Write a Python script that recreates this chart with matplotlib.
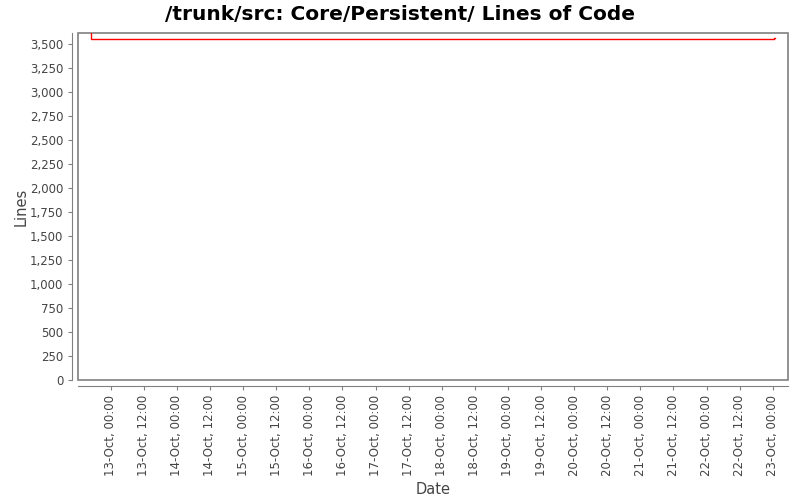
import matplotlib
matplotlib.use("Agg")
import matplotlib.pyplot as plt
import matplotlib.dates as mdates
from matplotlib.patches import Rectangle
from matplotlib.ticker import FuncFormatter, MultipleLocator
from datetime import datetime

# step series: lines of code over time
dates = [datetime(2009, 10, 12, 16, 0), datetime(2009, 10, 12, 16, 45),
         datetime(2009, 10, 23, 0, 35), datetime(2009, 10, 23, 0, 40)]
lines = [3800, 3552, 3567, 3567]

x_start = datetime(2009, 10, 12, 12, 10)
x_end = datetime(2009, 10, 23, 5, 30)

plt.rcParams['font.family'] = ['DejaVu Sans']
fig = plt.figure(figsize=(8, 5), dpi=100)
ax = fig.add_axes([0.0975, 0.24, 0.8875, 0.694])

ax.step(dates, lines, where='post', color='#ff0000', linewidth=1.0)

ax.set_xlim(x_start, x_end)
ax.set_ylim(0, 3615)

ax.yaxis.set_major_locator(MultipleLocator(250))
ax.yaxis.set_major_formatter(FuncFormatter(lambda v, p: f"{int(v):,}"))
ax.xaxis.set_major_locator(mdates.HourLocator(byhour=[0, 12]))
ax.xaxis.set_major_formatter(mdates.DateFormatter('%d-%b, %H:%M'))

for side in ['top', 'right']:
    ax.spines[side].set_visible(False)
for side in ['left', 'bottom']:
    ax.spines[side].set_position(('outward', 4))
    ax.spines[side].set_color('#808080')
ax.add_patch(Rectangle((0, 0), 1, 1, transform=ax.transAxes, fill=False,
                       edgecolor='#808080', linewidth=1.2, clip_on=False))

ax.tick_params(axis='both', colors='#808080', labelcolor='#444444',
               labelsize=8.5, length=3)
ax.tick_params(axis='x', labelrotation=90)

ax.set_xlabel('Date', fontsize=10.5, color='#444444')
ax.set_ylabel('Lines', fontsize=10.5, color='#444444', labelpad=1)
fig.suptitle('/trunk/src: Core/Persistent/ Lines of Code', fontsize=14.5,
             fontweight='bold', y=0.99)

fig.savefig('out.png', dpi=100)
